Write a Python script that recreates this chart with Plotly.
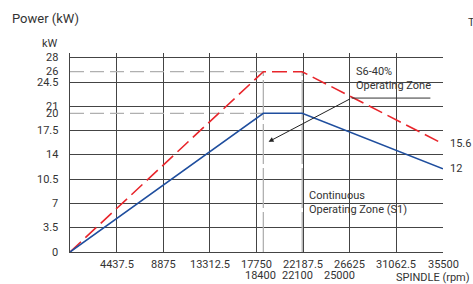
import plotly.graph_objects as go

# Data
speed = [0, 18400, 22100, 35500]
s6_power = [0, 26, 26, 15.6]
s1_power = [0, 20, 20, 12]
x_ticks_row1 = [4437.5, 8875, 13312.5, 17750, 22187.5, 26625, 31062.5, 35500]
x_ticks_row1_text = ["4437.5", "8875", "13312.5", "17750", "22187.5", "26625", "31062.5", "35500"]
x_ticks_row2 = [18400, 22100, 25000]
x_ticks_row2_text = ["18400", "22100", "25000"]
y_ticks = [0, 3.5, 7, 10.5, 14, 17.5, 20, 21, 24.5, 26, 28]
y_ticks_text = ["0", "3.5", "7", "10.5", "14", "17.5", "20", "21", "24.5", "26", "28"]

FONT = "Roboto, DejaVu Sans Condensed, sans-serif"
FS = 11
TXT = "#333333"
GUIDE = "#b0b0b0"

fig = go.Figure()

# guide lines (gray dashed) at break points
fig.add_trace(go.Scatter(x=[0, speed[1]], y=[s6_power[1]] * 2, mode="lines",
                         line=dict(color=GUIDE, width=1.3, dash="14px,6px"), hoverinfo="skip"))
fig.add_trace(go.Scatter(x=[0, speed[1]], y=[s1_power[1]] * 2, mode="lines",
                         line=dict(color=GUIDE, width=1.3, dash="14px,6px"), hoverinfo="skip"))
for sx in speed[1:3]:
    fig.add_trace(go.Scatter(x=[sx, sx], y=[0, s6_power[1]], mode="lines",
                             line=dict(color=GUIDE, width=1.3, dash="40px,4px"), hoverinfo="skip"))

fig.add_trace(go.Scatter(x=speed, y=s6_power, mode="lines", name="S6-40%",
                         line=dict(color="#e8252b", width=1.6, dash="15px,6px")))
fig.add_trace(go.Scatter(x=speed, y=s1_power, mode="lines", name="S1",
                         line=dict(color="#1f4e9e", width=1.6)))

ann = []
for v, t in zip(x_ticks_row1, x_ticks_row1_text):
    ann.append(dict(x=v, y=0, xref="x", yref="y", text=t, showarrow=False,
                    yanchor="top", yshift=-4, font=dict(size=FS, color=TXT)))
row2_shift = [-3, -5, 7]
for v, t, s in zip(x_ticks_row2, x_ticks_row2_text, row2_shift):
    ann.append(dict(x=v, y=0, xref="x", yref="y", text=t, showarrow=False,
                    yanchor="top", yshift=-15, xshift=s, font=dict(size=FS, color=TXT)))
for v, t in zip(y_ticks, y_ticks_text):
    ann.append(dict(x=0, y=v, xref="x", yref="y", text=t, showarrow=False,
                    xanchor="right", xshift=-10, font=dict(size=FS, color=TXT)))

# end labels
ann.append(dict(x=speed[-1], y=s6_power[-1], xref="x", yref="y", text=str(s6_power[-1]),
                showarrow=False, xanchor="left", xshift=5, font=dict(size=FS, color=TXT)))
ann.append(dict(x=speed[-1], y=s1_power[-1], xref="x", yref="y", text=str(s1_power[-1]),
                showarrow=False, xanchor="left", xshift=5, font=dict(size=FS, color=TXT)))

W, H = 473, 284
ML, MR, MT, MB = 70, 30, 53, 32
pw, ph = W - ML - MR, H - MT - MB
fig_texts = [
    dict(text="Power (kW)", px=10, py=18, size=13, anchor="left"),
    dict(text="kW", px=40, py=43, size=FS, anchor="left"),
    dict(text="SPINDLE (rpm)", px=472, py=277, size=FS, anchor="right"),
    dict(text="T", px=466, py=22, size=FS, anchor="left"),
]
for ft in fig_texts:
    ann.append(dict(x=(ft["px"] - ML) / pw, y=1 - (ft["py"] - MT) / ph, xref="paper", yref="paper",
                    text=ft["text"], showarrow=False, xanchor=ft["anchor"], yanchor="middle",
                    font=dict(size=ft["size"], color=TXT)))

# zone labels
ann.append(dict(x=27000, y=25.0, xref="x", yref="y", text="S6-40%<br>Operating Zone",
                showarrow=False, xanchor="left", yanchor="middle", align="left",
                font=dict(size=FS, color=TXT)))
ann.append(dict(x=22600, y=7.1, xref="x", yref="y", text="Continuous<br>Operating Zone (S1)",
                showarrow=False, xanchor="left", yanchor="middle", align="left",
                font=dict(size=FS, color=TXT)))
# arrow
ann.append(dict(x=18900, y=15.9, ax=26800, ay=22.2, xref="x", yref="y", axref="x", ayref="y",
                text="", showarrow=True, arrowhead=2, arrowsize=1, arrowwidth=1, arrowcolor="#222"))

fig.update_layout(
    width=W, height=H, margin=dict(l=ML, r=MR, t=MT, b=MB),
    paper_bgcolor="white", plot_bgcolor="white", showlegend=False,
    font=dict(family=FONT, size=FS, color=TXT),
    annotations=ann,
    shapes=[dict(type="line", xref="x", yref="y", x0=26800, x1=34300, y0=22.2, y1=22.2,
                 line=dict(color="#333", width=1))],
)
fig.update_xaxes(range=[0, 35500], tick0=0, dtick=4437.5, showticklabels=False, ticks="",
                 showgrid=True, gridcolor="#444", gridwidth=1.1, zeroline=False,
                 showline=True, linecolor="#444", linewidth=1.2, fixedrange=True)
fig.update_yaxes(range=[0, 28.7], tick0=0, dtick=3.5, showticklabels=False, ticks="",
                 showgrid=True, gridcolor="#444", gridwidth=1.1, zeroline=False,
                 showline=True, linecolor="#444", linewidth=1.2, fixedrange=True)

fig.write_html("out.html", config={"displayModeBar": False},
               post_script="document.body.style.margin='0';document.body.style.padding='0';")
